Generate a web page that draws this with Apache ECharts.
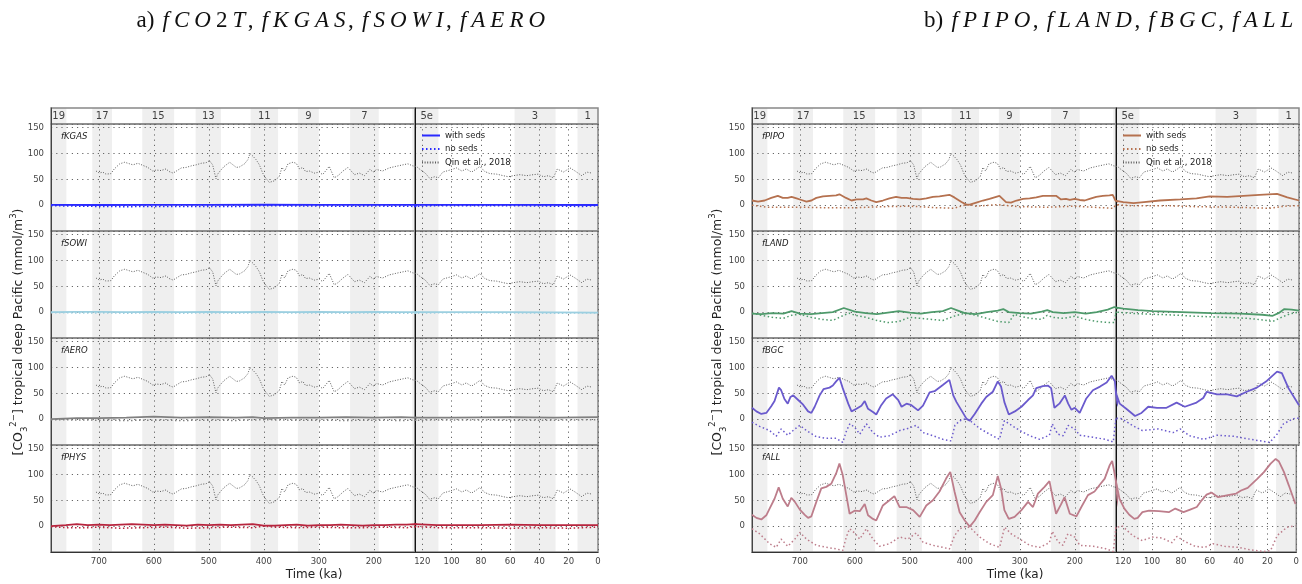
<!DOCTYPE html>
<html>
<head>
<meta charset="utf-8">
<script src="https://cdn.jsdelivr.net/npm/echarts@6/dist/echarts.min.js"></script>
<style>
  html, body { margin: 0; padding: 0; background: #fff; }
  #chart { width: 1302px; height: 584px; }
</style>
</head>
<body>
<div id="chart"></div>
<script>
// Marine isotope stage interglacials (ka, older -> younger) and their labels
const interglacials = [[787,759],[712,676],[621,563],[524,478],[424,374],[338,300],[243,191],[130,109],[57,29],[14,0]];
const misLabels = ['19','17','15','13','11','9','7','5e','3','1'];

// Reconstruction: Qin et al., 2018 ([ka, mmol/m3])
const qin = [[705,66],[699,62],[693,64],[687,60],[678,61],[672,70],[662,80],[653,83],[644,80],[638,78],[629,81],[620,77],[611,73],[602,66],[596,68],[587,67],[578,70],[572,65],[565,62],[559,66],[550,72],[541,73],[532,76],[523,78],[514,81],[505,82],[499,86],[493,78],[487,51],[484,60],[478,68],[472,75],[462,83],[456,78],[450,73],[444,74],[435,80],[429,88],[425,100],[420,95],[414,88],[408,78],[402,62],[396,52],[390,44],[381,47],[372,55],[367,73],[362,66],[356,80],[347,83],[341,81],[335,70],[329,73],[324,65],[317,66],[308,62],[299,64],[293,59],[281,75],[272,53],[265,57],[256,66],[247,73],[241,66],[235,59],[226,62],[217,57],[207,69],[201,64],[195,69],[184,66],[172,72],[160,75],[147,78],[138,80],[129,76],[124,75],[122,70],[118,62],[115,52],[111.5,55],[109,53],[106,64],[101,68],[96.6,72],[93,66],[90,70],[86.4,64],[83,70],[80.7,75],[77.3,65],[73.8,61],[69.2,60],[64.7,57],[61.3,55],[57.9,57],[53.3,59],[48.7,57],[44.2,59],[40.8,60],[37.3,55],[33.9,57],[30.5,53],[27.8,70],[23.6,64],[19.1,72],[15.6,66],[11.1,57],[7.7,64],[4.2,62]];

// Model runs, left figure
const kgasWith = [[787,0.5],[700,0.3],[600,0.5],[500,0.4],[400,0.8],[300,0.6],[200,0.5],[125,0.4],[100,0.5],[50,0.6],[0,0.3]];
const kgasNo = [[787,-1],[740,-2],[700,-2.5],[650,-3],[600,-2.5],[550,-2.8],[500,-2.5],[450,-2.8],[400,-1],[350,-1.5],[300,-1.8],[250,-2],[200,-1.8],[150,-2],[125,-2.5],[110,-1],[60,-1],[30,-2],[10,-2.5],[0,-1]];
const sowiWith = [[787,0],[740,0.5],[700,0.5],[650,0],[600,0.5],[550,0],[500,0.5],[450,0],[400,0.5],[350,0],[300,0.5],[250,0],[200,0.5],[150,0],[125,0],[100,0],[60,0],[30,-0.5],[0,-1]];
const sowiNo = [[787,-1],[740,-1.5],[700,-1.5],[650,-2],[600,-1.5],[550,-2],[500,-1.5],[450,-2],[400,-1],[350,-1.5],[300,-1.5],[250,-2],[200,-1.5],[150,-2],[125,-2],[100,-1],[60,-1.5],[30,-2],[0,-1.5]];
const aeroWith = [[787,0],[740,2],[700,2],[650,3],[600,5],[550,3],[500,4],[450,3],[420,4],[400,2],[350,3],[300,3],[250,4],[200,3],[150,4],[125,3],[100,3],[60,4],[30,3],[0,4]];
const aeroNo = [[787,-1],[700,-2],[650,-2.5],[600,-2],[550,-2.5],[500,-2],[450,-2.5],[400,-1],[350,-2],[300,-2],[250,-2.5],[200,-2],[150,-2.5],[125,-2],[100,-1.5],[60,-2],[30,-2],[0,-1]];
const physWith = [[787,0],[760,2],[740,4],[720,2],[700,3],[680,2],[660,3],[640,4],[620,3],[600,2],[580,3],[560,2],[540,1],[520,3],[500,2],[480,3],[460,2],[440,3],[420,4],[400,1],[380,1],[360,2],[340,3],[320,1],[300,2],[280,2],[260,3],[240,2],[220,1],[200,2],[180,2],[160,3],[140,3],[125,4],[110,2],[80,2],[60,3],[40,2],[20,2],[0,2]];
const physNo = [[787,-1],[760,-3],[720,-3],[700,-2],[660,-4],[620,-3],[580,-2],[540,-4],[500,-3],[460,-2],[420,-3],[400,0],[380,-2],[340,-3],[300,-2],[260,-3],[220,-3],[180,-2],[140,-3],[125,-1],[110,-3],[80,-3],[60,-4],[40,-3],[20,-4],[0,-2]];

// Model runs, right figure
const pipoWith = [[787,9],[776,7],[764,9],[752,14],[740,18],[731,14],[722,14],[715,16],[706,13],[697,10],[688,7],[679,9],[670,14],[658,17],[646,18],[634,19],[628,21],[616,14],[606,9],[597,11],[585,11],[579,13],[570,9],[561,6],[549,9],[537,13],[525,16],[515,14],[506,14],[494,12],[482,11],[470,13],[458,16],[446,17],[434,19],[428,20],[419,15],[406,6],[397,1],[391,1],[379,5],[367,9],[355,12],[343,16],[337,18],[334,20],[325,6],[316,5],[306,9],[294,12],[282,13],[270,15],[258,18],[246,18],[234,18],[225,11],[216,12],[209,10],[200,12],[191,10],[182,9],[173,12],[161,16],[149,18],[137,19],[131,20],[126,9],[120,6],[113,4],[106,6],[95,9],[81,11],[70,13],[61,17],[49,16],[38,18],[27,20],[15,22],[8,15],[0,9]];
const pipoNo = [[787,0],[760,-4],[700,-4],[650,-5],[600,-5],[550,-3],[500,-2],[450,-5],[420,-6],[400,0],[390,1],[380,-2],[340,1],[300,-3],[250,-4],[200,-2],[150,-5],[130,-6],[125,1],[115,-1],[90,-1],[70,-3],[45,-4],[20,-6],[10,-2],[0,-1]];
const landWith = [[787,-3],[770,-4],[750,-2],[730,-3],[715,2],[700,-3],[680,-4],[660,-2],[640,0],[620,8],[600,1],[580,-2],[560,-4],[540,-1],[520,2],[500,-1],[480,-3],[460,0],[440,2],[425,8],[410,2],[400,-2],[380,-4],[360,0],[340,3],[330,6],[320,0],[300,-2],[280,-3],[260,1],[250,4],[240,0],[220,-2],[200,0],[180,-3],[160,0],[140,5],[128,10],[120,7],[110,4],[100,2],[80,0],[60,-2],[40,-3],[25,-5],[18,-7],[14,-2],[10,6],[5,5],[0,3]];
const landNo = [[787,-2],[770,-6],[750,-10],[730,-12],[715,-6],[700,-4],[680,-10],[660,-14],[640,-16],[620,-6],[610,-2],[600,-6],[580,-10],[560,-16],[540,-20],[520,-18],[500,-10],[480,-12],[460,-14],[440,-16],[420,-8],[400,-2],[380,-6],[360,-12],[340,-18],[320,-20],[310,-4],[300,-8],[280,-12],[260,-14],[250,-6],[240,-10],[220,-12],[200,-8],[180,-14],[160,-18],[140,-20],[128,-20],[125,0],[110,-3],[90,-5],[70,-8],[50,-10],[35,-12],[25,-15],[18,-18],[12,-10],[6,-3],[0,0]];
const bgcWith = [[787,22],[779,15],[770,10],[761,12],[752,25],[746,35],[738,61],[734,56],[728,39],[722,30],[717,43],[712,46],[703,37],[694,28],[685,15],[679,12],[673,24],[664,46],[657,58],[646,61],[640,65],[634,73],[628,80],[622,60],[612,30],[606,15],[597,20],[588,26],[582,35],[576,20],[567,14],[561,9],[552,27],[543,40],[531,48],[521,37],[515,24],[506,30],[497,27],[485,17],[476,26],[464,52],[455,54],[440,66],[428,76],[421,46],[415,33],[406,17],[397,1],[391,-3],[382,10],[370,30],[361,43],[349,53],[340,73],[334,63],[328,33],[320,9],[309,15],[297,24],[285,37],[276,46],[270,60],[258,64],[249,65],[243,60],[237,22],[228,30],[218,46],[212,30],[206,18],[200,22],[191,12],[179,40],[167,56],[154,63],[142,71],[133,84],[127,73],[125,50],[122.5,30],[118,20],[112,6],[107.6,12],[103,24],[97,22],[90.5,22],[83.6,32],[78,24],[70,32],[65.4,41],[63,53],[56,48],[49,48],[42.5,44],[35.7,53],[28.8,61],[22,74],[15,92],[11.7,89],[7.2,60],[0,27]];
const bgcNo = [[787,-6],[773,-14],[755,-22],[743,-33],[734,-19],[722,-31],[709,-19],[700,-12],[688,-22],[670,-34],[652,-37],[634,-37],[622,-45],[615,-22],[609,-9],[600,-16],[591,-29],[579,-9],[567,-26],[555,-35],[537,-32],[518,-22],[504,-18],[488,-12],[476,-26],[458,-32],[440,-39],[425,-42],[418,-12],[409,-3],[397,1],[388,-5],[373,-18],[355,-29],[337,-39],[328,-3],[315,-12],[300,-22],[282,-32],[264,-39],[246,-31],[241,-9],[231,-29],[221,-32],[212,-12],[200,-19],[191,-31],[167,-35],[145,-39],[130,-44],[125,2],[121,1],[114,-12],[107,-22],[96,-19],[86,-26],[81,-19],[75,-32],[65,-39],[56,-31],[45,-33],[33,-39],[20,-45],[15,-29],[10.6,-9],[3.7,1],[0,2]];
const allWith = [[787,22],[779,16],[770,13],[761,21],[755,34],[746,53],[738.5,75],[731,53],[722,38],[715.5,55],[709,47],[700,32],[691,22],[685,16],[679,19],[670,47],[661,73],[652,76],[643,82],[634,102],[628,121],[622,99],[615.5,60],[609.5,24],[600.5,30],[591,29],[582,43],[576,21],[567,14],[561,11],[549,40],[537,50],[528,58],[518.5,37],[506.4,37],[494,31],[482,18],[470,40],[458,50],[446,67],[434,92],[426.4,105],[418.5,66],[409.4,27],[400,11],[391,-1],[382,11],[373,27],[361,47],[349,60],[340,97],[334,73],[328,31],[320,14],[309.4,18],[297,31],[285,47],[276,37],[267,63],[255,76],[246,87],[241,60],[234,24],[225,42],[218.5,56],[209,24],[197,19],[188,37],[176,60],[164,67],[154.5,80],[145.5,92],[136.4,118],[132,126],[127,99],[125,86],[122.6,53],[119.2,34],[115.8,22],[112.3,14],[110,16],[106.7,27],[102.1,30],[95.3,29],[88.4,27],[83.9,34],[78.2,27],[73.6,32],[69,37],[65.6,50],[62.2,61],[58.8,65],[54.2,56],[47.4,60],[41.7,63],[38.3,69],[33.7,74],[26.9,92],[22.3,105],[17.8,121],[14.3,130],[12,125],[8.6,105],[5.2,79],[0.6,43]];
const allNo = [[787,-5],[773,-15],[755,-34],[743,-41],[734,-25],[722,-39],[709,-25],[700,-12],[688,-25],[670,-37],[652,-41],[634,-44],[622,-47],[615.5,-21],[609.5,-5],[600.5,-13],[591,-25],[579,-5],[567,-25],[555,-39],[537,-34],[518.5,-21],[503.6,-25],[488.2,-13],[476,-31],[458,-37],[440,-41],[428,-44],[418.5,-18],[409.4,-5],[397,0],[388,-5],[373,-21],[355,-34],[336.7,-41],[327.6,-2],[315.5,-15],[300,-25],[282,-37],[264,-41],[246,-32],[241,-10],[230.6,-30],[221.5,-37],[212.5,-15],[200,-21],[191,-37],[166.6,-39],[145.5,-43],[130,-49],[125,-2],[120.5,0],[113.6,-18],[106.7,-28],[99.9,-21],[93,-23],[86.2,-32],[82.8,-20],[77.1,-30],[70.2,-39],[63.4,-41],[57.7,-34],[49.7,-39],[40.5,-41],[31.4,-46],[22.3,-49],[17.8,-47],[13.2,-18],[6.4,-2],[0.6,1]];

const FONT = 'DejaVu Sans';
const SERIF = 'Liberation Serif';
const OLD = [125, 787];   // older time window (left sub-axis)
const YOUNG = [0, 125];   // last glacial cycle (right sub-axis)

const figures = [
  {
    x0: 51, xs: 415, x1: 598, titleX: 342, yTitleX: 19, xTitleX: 314,
    prefix: 'a) ', terms: ['fCO2T', 'fKGAS', 'fSOWI', 'fAERO'],
    panels: [
      { label: 'fKGAS', color: '#2a2aff', withSeds: kgasWith, noSeds: kgasNo },
      { label: 'fSOWI', color: '#9ccfe0', withSeds: sowiWith, noSeds: sowiNo },
      { label: 'fAERO', color: '#808080', withSeds: aeroWith, noSeds: aeroNo },
      { label: 'fPHYS', color: '#b8253e', withSeds: physWith, noSeds: physNo }
    ]
  },
  {
    x0: 752, xs: 1116, x1: 1299, titleX: 1110, yTitleX: 718, xTitleX: 1015,
    prefix: 'b) ', terms: ['fPIPO', 'fLAND', 'fBGC', 'fALL'],
    panels: [
      { label: 'fPIPO', color: '#b5714f', withSeds: pipoWith, noSeds: pipoNo },
      { label: 'fLAND', color: '#4e9a6b', withSeds: landWith, noSeds: landNo },
      { label: 'fBGC', color: '#6a5acd', withSeds: bgcWith, noSeds: bgcNo },
      { label: 'fALL', color: '#bd7d8b', withSeds: allWith, noSeds: allNo }
    ]
  }
];

const STRIPE_TOP = 108, STRIPE_H = 16, PANEL_TOP = 124, PANEL_H = 107;
const grids = [], xAxes = [], yAxes = [], series = [], graphics = [], legends = [];
const dotted = [1.2, 4];

// math-style title: italic letters spaced apart, upright digits and punctuation
function mathTitle(prefix, terms) {
  const parts = ['{r|' + prefix + '}'];
  terms.forEach((t, i) => {
    for (const c of t) parts.push(/[A-Za-z]/.test(c) ? '{m|' + c + '}' : '{d|' + c + '}');
    if (i < terms.length - 1) parts.push('{r|, }');
  });
  return parts.join('');
}

function addGrid(left, top, width, height) {
  grids.push({ left, top, width, height, show: true, borderColor: '#888', borderWidth: 1.5, z: 2, containLabel: false });
  return grids.length - 1;
}

function clipBands(range) {
  return interglacials
    .map(([a, b]) => [Math.min(a, range[1]), Math.max(b, range[0])])
    .filter(([a, b]) => a > b);
}

function bandSeries(g, range) {
  return {
    type: 'line', xAxisIndex: g, yAxisIndex: g, data: [], silent: true, z: 0, animation: false,
    markArea: {
      silent: true, animation: false, z: 0,
      itemStyle: { color: '#efefef', borderWidth: 0 },
      data: clipBands(range).map(([a, b]) => [{ xAxis: a }, { xAxis: b }])
    }
  };
}

function lineSeries(g, name, data, color, type, width) {
  return {
    type: 'line', name, xAxisIndex: g, yAxisIndex: g, data,
    symbol: 'none', showSymbol: false, clip: true, silent: true, z: 3, animation: false,
    emphasis: { disabled: true },
    itemStyle: { color },
    lineStyle: { color, width, type }
  };
}

function xAxisFor(g, range, isOld, bottom) {
  const ax = {
    type: 'value', gridIndex: g, min: range[0], max: range[1], inverse: true, z: 2,
    axisLine: { show: bottom, onZero: false, lineStyle: { color: '#333', width: 1 } },
    axisTick: { show: false },
    axisLabel: { show: bottom, color: '#444', fontSize: 8.5, fontFamily: FONT, margin: 5,
                 showMinLabel: !isOld, showMaxLabel: false },
    splitLine: { show: true, lineStyle: { color: '#666', width: 1, type: dotted } }
  };
  if (isOld) ax.splitNumber = 7; else ax.interval = 20;
  return ax;
}

function yAxisFor(g, isOld) {
  return {
    type: 'value', gridIndex: g, min: -50, max: 157, interval: 50, z: 2,
    axisLine: { show: true, onZero: false, lineStyle: { color: isOld ? '#444' : '#111', width: 1 } },
    axisTick: { show: false },
    axisLabel: { show: isOld, color: '#444', fontSize: 8.5, fontFamily: FONT, margin: 7,
                 showMinLabel: false, showMaxLabel: false },
    splitLine: { show: true, lineStyle: { color: '#666', width: 1, type: dotted } }
  };
}

figures.forEach((fig) => {
  const wOld = fig.xs - fig.x0, wYoung = fig.x1 - fig.xs;

  // stage stripe across the top
  const stripes = [
    { g: addGrid(fig.x0, STRIPE_TOP, wOld, STRIPE_H), range: OLD, isOld: true },
    { g: addGrid(fig.xs, STRIPE_TOP, wYoung, STRIPE_H), range: YOUNG, isOld: false }
  ];
  stripes.forEach(({ g, range, isOld }) => {
    xAxes.push({ type: 'value', gridIndex: g, min: range[0], max: range[1], inverse: true, show: false });
    yAxes.push({ type: 'value', gridIndex: g, min: 0, max: 1, z: 2,
      axisLine: { show: true, onZero: false, lineStyle: { color: isOld ? '#444' : '#111' } },
      axisTick: { show: false }, axisLabel: { show: false }, splitLine: { show: false } });
    series.push(bandSeries(g, range));
  });
  // stage numbers, each in the window that shows most of its band
  const labelPts = [[], []];
  interglacials.forEach(([a, b], i) => {
    const spans = [OLD, YOUNG].map(r => Math.max(0, Math.min(a, r[1]) - Math.max(b, r[0])));
    const k = spans[0] >= spans[1] ? 0 : 1;
    const r = k === 0 ? OLD : YOUNG;
    const c = (Math.min(a, r[1]) + Math.max(b, r[0])) / 2;
    labelPts[k].push({ name: misLabels[i], value: [c, 0.5] });
  });
  stripes.forEach(({ g }, k) => {
    series.push({
      type: 'scatter', xAxisIndex: g, yAxisIndex: g, data: labelPts[k], symbolSize: 0, silent: true, z: 4,
      animation: false,
      label: { show: true, position: 'inside', formatter: '{b}', color: '#111', fontSize: 10, fontFamily: FONT }
    });
  });

  fig.panels.forEach((p, i) => {
    const top = PANEL_TOP + i * PANEL_H;
    const bottom = i === 3;
    const gOld = addGrid(fig.x0, top, wOld, PANEL_H);
    const gYoung = addGrid(fig.xs, top, wYoung, PANEL_H);
    xAxes.push(xAxisFor(gOld, OLD, true, bottom));
    yAxes.push(yAxisFor(gOld, true));
    xAxes.push(xAxisFor(gYoung, YOUNG, false, bottom));
    yAxes.push(yAxisFor(gYoung, false));
    [[gOld, OLD], [gYoung, YOUNG]].forEach(([g, range]) => {
      series.push(bandSeries(g, range));
      series.push(lineSeries(g, p.label + ' Qin et al., 2018', qin, '#5a5a5a', [1, 1.6], 1));
      series.push(lineSeries(g, p.label + ' no seds', p.noSeds, p.color, [1.5, 2.5], 1.5));
      series.push(lineSeries(g, p.label + ' with seds', p.withSeds, p.color, 'solid', 1.8));
    });
    graphics.push({
      type: 'text', x: fig.x0 + 10, y: top + 13, z: 10,
      style: { text: p.label, fill: '#222', font: 'italic 8.5px "' + FONT + '"', align: 'left', verticalAlign: 'middle' }
    });
  });

  // legend in the first panel, younger window
  const first = fig.panels[0].label;
  legends.push({
    left: fig.xs + 6, top: PANEL_TOP + 7, orient: 'vertical', itemWidth: 18, itemHeight: 8, itemGap: 4.5,
    selectedMode: false, padding: 0,
    itemStyle: { opacity: 0 },
    data: [first + ' with seds', first + ' no seds', first + ' Qin et al., 2018'],
    formatter: (n) => n.slice(first.length + 1),
    textStyle: { color: '#222', fontSize: 8.5, fontFamily: FONT }
  });

  // figure title
  const pad = [0, 2.5, 0, 2.5];
  graphics.push({
    type: 'text', x: fig.titleX, y: 21, z: 10,
    style: {
      text: mathTitle(fig.prefix, fig.terms), align: 'center', verticalAlign: 'middle',
      rich: {
        r: { fontFamily: SERIF, fontSize: 23, fill: '#111' },
        d: { fontFamily: SERIF, fontSize: 23, fill: '#111', padding: pad },
        m: { fontFamily: SERIF, fontSize: 23, fontStyle: 'italic', fill: '#111', padding: pad }
      }
    }
  });
  // axis titles
  graphics.push({
    type: 'text', x: fig.yTitleX, y: 332, rotation: Math.PI / 2, z: 10,
    style: {
      text: '{t|[CO}{s|3}{p|2−}{t|] tropical deep Pacific (mmol/m}{p|3}{t|)}',
      align: 'center', verticalAlign: 'middle',
      rich: {
        t: { fontFamily: FONT, fontSize: 12.5, fill: '#222', lineHeight: 20, verticalAlign: 'middle' },
        s: { fontFamily: FONT, fontSize: 8.5, fill: '#222', lineHeight: 20, verticalAlign: 'bottom' },
        p: { fontFamily: FONT, fontSize: 8.5, fill: '#222', lineHeight: 20, verticalAlign: 'top' }
      }
    }
  });
  graphics.push({
    type: 'text', x: fig.xTitleX, y: 575, z: 10,
    style: { text: 'Time (ka)', fill: '#222', font: '12px "' + FONT + '"', align: 'center', verticalAlign: 'middle' }
  });
});

const chart = echarts.init(document.getElementById('chart'), null, { renderer: 'canvas' });
chart.setOption({
  animation: false,
  backgroundColor: '#fff',
  grid: grids, xAxis: xAxes, yAxis: yAxes, series, legend: legends, graphic: graphics
});
</script>
</body>
</html>
